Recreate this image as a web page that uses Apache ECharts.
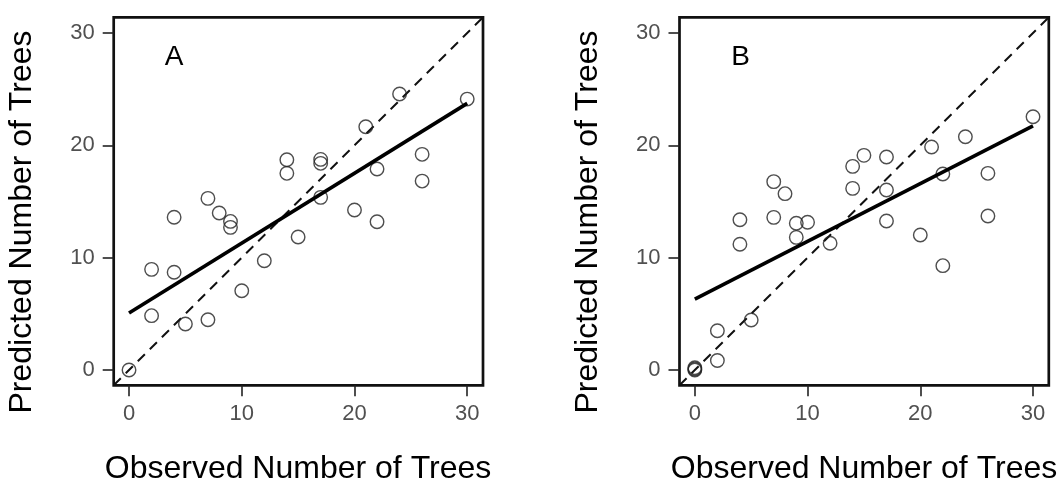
<!DOCTYPE html>
<html>
<head>
<meta charset="utf-8">
<title>Observed vs Predicted Number of Trees</title>
<script src="https://cdn.jsdelivr.net/npm/echarts@6/dist/echarts.min.js"></script>
<style>
  html, body { margin: 0; padding: 0; background: #fff; }
  #main { width: 1060px; height: 485px; }
</style>
</head>
<body>
<div id="main"></div>
<script>
// tick labels shared by both panels
var tickValues = [0, 10, 20, 30];

// panel A: observed vs predicted
var pointsA = [
  [0, 0], [2, 4.84], [2, 8.96], [4, 13.6], [4, 8.7], [5, 4.1],
  [7, 15.28], [7, 4.48], [8, 13.98], [9, 13.23], [9, 12.7], [10, 7.06],
  [12, 9.73], [14, 18.72], [14, 17.51], [15, 11.84], [17, 18.75], [17, 18.4],
  [17, 15.37], [20, 14.24], [21, 21.66], [22, 17.89], [22, 13.2], [24, 24.57],
  [26, 19.2], [26, 16.82], [30, 24.12]
];
var fitA = [[0, 5.07], [30, 23.74]];

// panel B: observed vs predicted
var pointsB = [
  [0, 0], [0, 0.1], [0, 0.2], [2, 0.85], [2, 3.5], [5, 4.45], [4, 13.38],
  [4, 11.19], [7, 16.77], [7, 13.59], [8, 15.7], [9, 13.06], [9, 11.81],
  [10, 13.15], [12, 11.28], [14, 18.13], [14, 16.17], [15, 19.11], [17, 18.96],
  [17, 16.02], [17, 13.26], [20, 12.02], [21, 19.85], [22, 17.45], [22, 9.29],
  [24, 20.77], [26, 17.51], [26, 13.71], [30, 22.55]
];
var fitB = [[0, 6.32], [30, 21.73]];

// 1:1 reference line across the whole axis range
var axisMin = -1.36, axisMax = 31.4;
var oneToOne = [[axisMin, axisMin], [axisMax, axisMax]];

var font = "'Liberation Sans', Arial, sans-serif";

function makeAxis(idx) {
  return {
    gridIndex: idx,
    type: 'value',
    min: axisMin,
    max: axisMax,
    axisLine: { show: false, onZero: false },
    splitLine: { show: false },
    axisTick: {
      show: true,
      inside: false,
      length: 11,
      customValues: tickValues,
      lineStyle: { color: '#222', width: 1.6 }
    },
    axisLabel: {
      customValues: tickValues,
      fontSize: 22,
      fontFamily: font,
      color: '#505050'
    }
  };
}

function makeX(idx) {
  var a = makeAxis(idx);
  a.axisLabel.margin = 18;
  return a;
}
function makeY(idx) {
  var a = makeAxis(idx);
  a.axisLabel.margin = 19;
  return a;
}

function scatter(idx, data) {
  return {
    type: 'scatter',
    xAxisIndex: idx, yAxisIndex: idx,
    data: data,
    symbol: 'circle',
    symbolSize: 13.5,
    itemStyle: { color: 'rgba(0,0,0,0)', borderColor: '#222', borderWidth: 1.4 },
    z: 3
  };
}
function fitLine(idx, data) {
  return {
    type: 'line',
    xAxisIndex: idx, yAxisIndex: idx,
    data: data,
    showSymbol: false,
    lineStyle: { color: '#000', width: 3.6 },
    z: 4
  };
}
function refLine(idx) {
  return {
    type: 'line',
    xAxisIndex: idx, yAxisIndex: idx,
    data: oneToOne,
    showSymbol: false,
    clip: true,
    lineStyle: { color: '#111', width: 2, type: [10, 7] },
    z: 2
  };
}

function text(str, x, y, size, rot) {
  return {
    type: 'text',
    x: x, y: y,
    rotation: rot || 0,
    style: {
      text: str,
      font: size + 'px ' + font,
      fill: '#000',
      align: 'center',
      verticalAlign: 'middle'
    }
  };
}

var chart = echarts.init(document.getElementById('main'));
chart.setOption({
  animation: false,
  backgroundColor: '#fff',
  grid: [
    { left: 113.7, top: 17.3, width: 369.3, height: 368, show: true, borderColor: '#111', borderWidth: 2.7 },
    { left: 679.5, top: 17.3, width: 369.3, height: 368, show: true, borderColor: '#111', borderWidth: 2.7 }
  ],
  xAxis: [makeX(0), makeX(1)],
  yAxis: [makeY(0), makeY(1)],
  series: [
    refLine(0), scatter(0, pointsA), fitLine(0, fitA),
    refLine(1), scatter(1, pointsB), fitLine(1, fitB)
  ],
  graphic: [
    text('A', 174, 57, 28),
    text('B', 740.5, 57, 28),
    text('Observed Number of Trees', 298, 469, 32),
    text('Observed Number of Trees', 864, 469, 32),
    text('Predicted Number of Trees', 22, 222, 32, Math.PI / 2),
    text('Predicted Number of Trees', 588, 222, 32, Math.PI / 2)
  ]
});
</script>
</body>
</html>
